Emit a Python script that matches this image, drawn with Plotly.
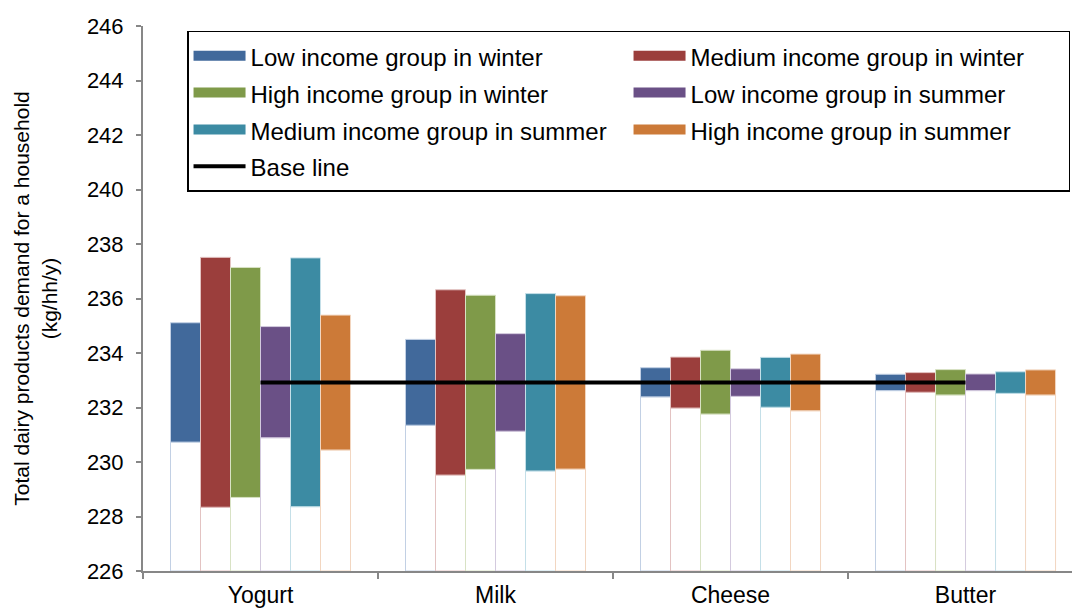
import plotly.graph_objects as go

categories = ["Yogurt", "Milk", "Cheese", "Butter"]

series_names = [
    "Low income group in winter",
    "Medium income group in winter",
    "High income group in winter",
    "Low income group in summer",
    "Medium income group in summer",
    "High income group in summer",
]

low_winter_min = [230.73, 231.35, 232.39, 232.62]
low_winter_max = [235.11, 234.50, 233.46, 233.22]
med_winter_min = [228.34, 229.52, 231.98, 232.56]
med_winter_max = [237.51, 236.32, 233.85, 233.28]
high_winter_min = [228.70, 229.73, 231.76, 232.46]
high_winter_max = [237.14, 236.12, 234.10, 233.39]
low_summer_min = [230.89, 231.13, 232.41, 232.62]
low_summer_max = [234.97, 234.71, 233.42, 233.23]
med_summer_min = [228.36, 229.67, 232.01, 232.52]
med_summer_max = [237.49, 236.18, 233.84, 233.31]
high_summer_min = [230.44, 229.74, 231.88, 232.46]
high_summer_max = [235.39, 236.10, 233.96, 233.38]

base_line = [232.92, 232.92, 232.92, 232.92]

axis_min = 226
axis_max = 246

series_min = [low_winter_min, med_winter_min, high_winter_min,
              low_summer_min, med_summer_min, high_summer_min]
series_max = [low_winter_max, med_winter_max, high_winter_max,
              low_summer_max, med_summer_max, high_summer_max]

colors = ["#41699b", "#9b3e3c", "#7f9a49", "#6a5086", "#3c8ba3", "#cc7a38"]
tints = ["#c2d0e4", "#e3c3c2", "#d8e2c4", "#d3cade", "#c4dfe8", "#f2d6c0"]

fig = go.Figure()

for i, name in enumerate(series_names):
    lo = series_min[i]
    hi = series_max[i]
    # white lower part from axis minimum to the range start
    fig.add_trace(go.Bar(
        x=categories,
        y=[v - axis_min for v in lo],
        base=[axis_min] * len(lo),
        offsetgroup=str(i),
        marker=dict(color="white", line=dict(color=tints[i], width=1)),
        showlegend=False,
        hoverinfo="skip",
    ))
    # coloured floating range
    fig.add_trace(go.Bar(
        x=categories,
        y=[h - l for h, l in zip(hi, lo)],
        base=lo,
        offsetgroup=str(i),
        marker=dict(color=colors[i], line=dict(color=tints[i], width=1)),
        name=name,
        showlegend=False,
    ))

legend_text = "<span style='font-size:24px'>{}</span>"

# legend entries (wide swatches)
for i, name in enumerate(series_names):
    fig.add_trace(go.Scatter(
        x=[None], y=[None], mode="lines",
        line=dict(color=colors[i], width=10),
        name=legend_text.format(name), showlegend=True,
    ))

fig.add_trace(go.Scatter(
    x=categories, y=base_line, mode="lines",
    line=dict(color="black", width=4),
    name=legend_text.format("Base line"),
))

font_family = "Liberation Sans, Arial, sans-serif"

fig.update_layout(
    width=1072, height=612,
    margin=dict(l=143, r=0, t=26, b=41),
    plot_bgcolor="white", paper_bgcolor="white",
    barmode="group",
    bargap=0.234,
    bargroupgap=0,
    font=dict(family=font_family, size=22, color="black"),
    legend=dict(
        orientation="h",
        x=0.0474, xanchor="left",
        y=0.991, yanchor="top",
        bordercolor="black", borderwidth=1.5,
        bgcolor="white",
        font=dict(family=font_family, size=26, color="black"),
        entrywidth=373, entrywidthmode="pixels",
        itemwidth=52,
        traceorder="normal",
    ),
    xaxis=dict(
        type="category",
        categoryorder="array", categoryarray=categories,
        range=[-0.5, 3.453],
        tickson="boundaries",
        ticks="outside", ticklen=6, tickcolor="#878787", tickwidth=2,
        ticklabelstandoff=2,
        showline=True, linecolor="#878787", linewidth=2,
        showgrid=False, zeroline=False,
        tickfont=dict(size=23),
        automargin=False,
    ),
    yaxis=dict(
        range=[axis_min, axis_max],
        dtick=2, tick0=axis_min,
        ticks="outside", ticklen=5, tickcolor="#878787", tickwidth=2,
        ticklabelstandoff=8,
        showline=True, linecolor="#878787", linewidth=2,
        showgrid=False, zeroline=False,
        tickfont=dict(size=22),
        automargin=False,
        title=dict(
            text="Total dairy products demand for a household<br>(kg/hh/y)",
            font=dict(size=21),
            standoff=24,
        ),
    ),
)

fig.write_html("out.html", config={"displayModeBar": False},
               post_script="document.body.style.margin='0';")
